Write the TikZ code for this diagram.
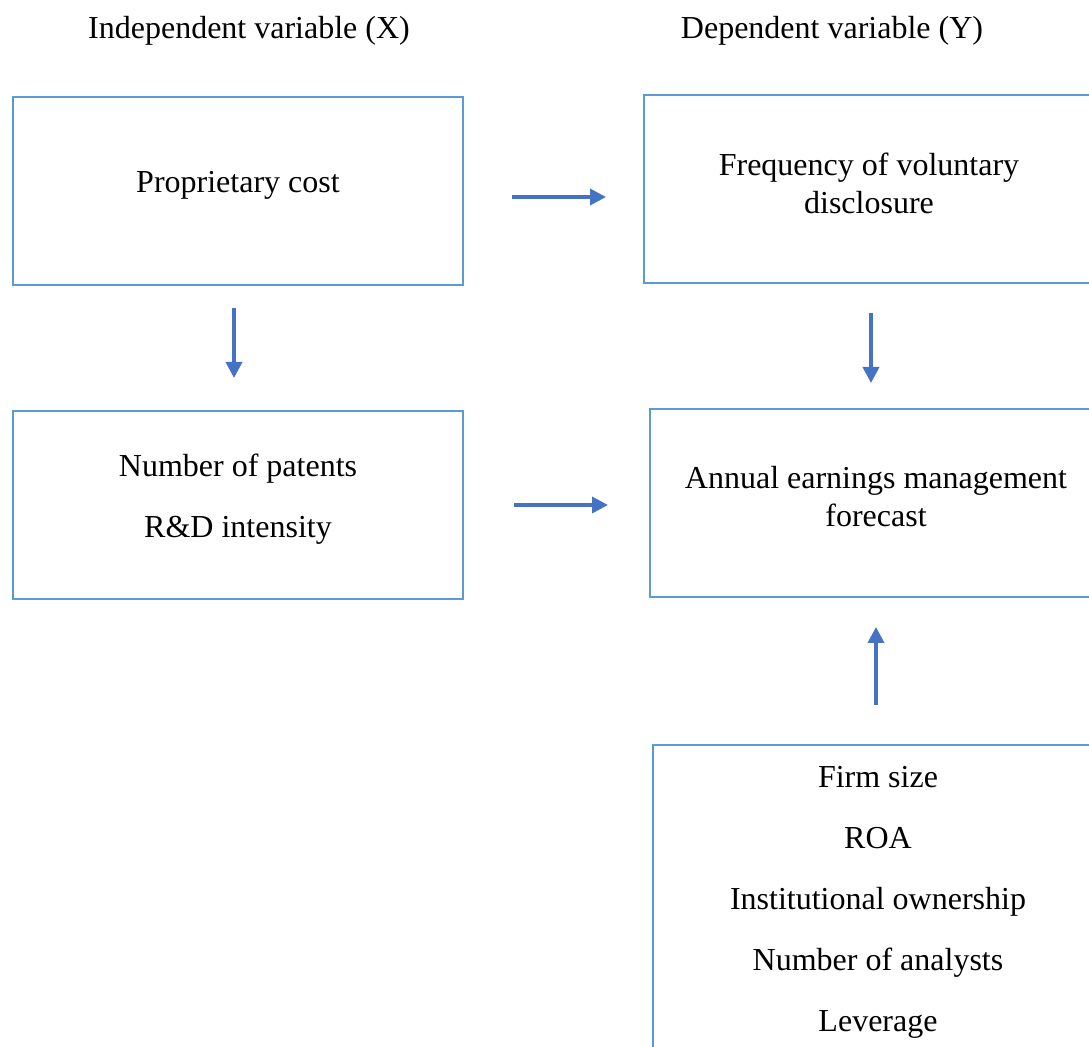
\documentclass[tikz,border=0pt]{standalone}
\usepackage{fontspec}
\setmainfont{Liberation Serif}
\usetikzlibrary{arrows.meta}
\definecolor{boxblue}{HTML}{5B9BD5}
\definecolor{arrblue}{HTML}{4472C4}
\begin{document}
\begin{tikzpicture}[x=0.5pt,y=-0.5pt,
  box/.style={draw=boxblue,line width=1.2pt,minimum width=225pt,minimum height=94pt,inner sep=0pt},
  lbl/.style={font=\fontsize{16}{19}\selectfont,align=center,inner sep=0pt},
  arr/.style={draw=arrblue,line width=1.8pt,-{Triangle[length=8pt,width=8pt]}}]
\useasboundingbox (0,0) rectangle (1089,1047);
\begin{scope}
\clip (0,0) rectangle (1089,1047);
\node[box] (b1) at (238,191) {};
\node[box] (b2) at (869,189) {};
\node[box] (b3) at (238,505) {};
\node[box] (b4) at (875,503) {};
\node[box,minimum height=165pt] (b5) at (878,910) {};
\end{scope}
\node[lbl] (h1) at (249,31) {Independent variable (X)};
\node[lbl] (h2) at (832,31) {Dependent variable (Y)};
\node[lbl] (t1) at (238,185) {Proprietary cost};
\node[lbl] (t2) at (869,183) {Frequency of voluntary\\disclosure};
\node[lbl] (t3) at (238,499) {Number of patents\\[11.5pt]R\&D intensity};
\node[lbl] (t4) at (876,497) {Annual earnings management\\forecast};
\node[lbl] (t5) at (878,902) {Firm size\\[11.5pt]ROA\\[11.5pt]Institutional ownership\\[11.5pt]Number of analysts\\[11.5pt]Leverage};
\coordinate (a1s) at (512,197);
\coordinate (a1e) at (606,197);
\coordinate (a2s) at (514,505);
\coordinate (a2e) at (608,505);
\coordinate (a3s) at (234,308);
\coordinate (a3e) at (234,378);
\coordinate (a4s) at (871,313);
\coordinate (a4e) at (871,383);
\coordinate (a5s) at (876,705);
\coordinate (a5e) at (876,627);
\draw[arr] (a1s) -- (a1e);
\draw[arr] (a2s) -- (a2e);
\draw[arr] (a3s) -- (a3e);
\draw[arr] (a4s) -- (a4e);
\draw[arr] (a5s) -- (a5e);
\end{tikzpicture}
\end{document}
